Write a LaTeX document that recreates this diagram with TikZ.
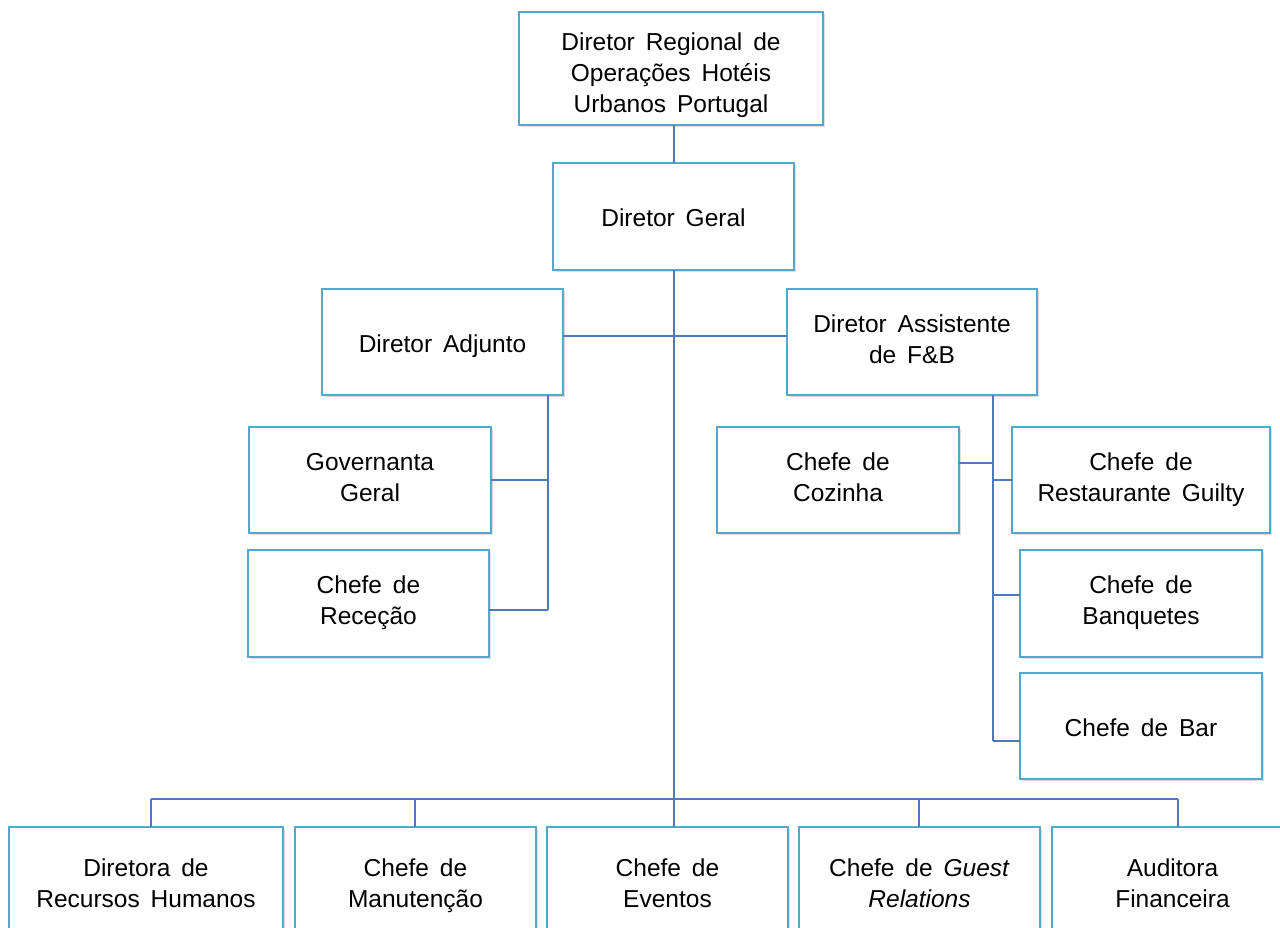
\documentclass[tikz,border=0pt]{standalone}
\usepackage{fontspec}
\setmainfont{Liberation Sans}[WordSpace=1.6]
\usetikzlibrary{shadows}
\definecolor{boxc}{RGB}{88,166,202}
\definecolor{linec}{RGB}{79,120,189}
\begin{document}
\begin{tikzpicture}[x=1pt,y=-1pt,
  box/.style={draw=boxc, line width=2.2pt, fill=white, rectangle, inner sep=0pt, outer sep=0pt,
    align=center, font=\fontsize{24.5}{31}\selectfont,
    execute at begin node={\rule{0pt}{26.5pt}}, execute at end node={\rule[-6pt]{0pt}{6pt}},
    drop shadow={opacity=0.25, shadow xshift=2pt, shadow yshift=-2pt}},
  conn/.style={draw=linec, line width=1.6pt}]
\useasboundingbox (0,0) rectangle (1280,928);
\clip (0,0) rectangle (1280,928);
% nodes
\node[box, minimum width=304pt, minimum height=113pt] (reg) at (671,68.5) {\rule{0pt}{32pt}Diretor Regional de\\Operações Hotéis\\Urbanos Portugal};
\node[box, minimum width=241pt, minimum height=107pt] (geral) at (673.5,216.5) {Diretor Geral};
\node[box, minimum width=241pt, minimum height=106pt] (adj) at (442.5,342) {Diretor Adjunto};
\node[box, minimum width=250pt, minimum height=106pt] (fb) at (912,342) {Diretor Assistente\\de F\&B};
\node[box, minimum width=242pt, minimum height=106pt] (gov) at (370,480) {Governanta\\Geral};
\node[box, minimum width=241pt, minimum height=107pt] (rec) at (368.5,603.5) {Chefe de\\Receção};
\node[box, minimum width=242pt, minimum height=106pt] (coz) at (838,480) {Chefe de\\Cozinha};
\node[box, minimum width=258pt, minimum height=106pt] (rest) at (1141,480) {Chefe de\\Restaurante Guilty};
\node[box, minimum width=242pt, minimum height=107pt] (banq) at (1141,603.5) {Chefe de\\Banquetes};
\node[box, minimum width=242pt, minimum height=106pt] (bar) at (1141,726) {Chefe de Bar};
\node[box, minimum width=274pt, minimum height=118pt] (rh) at (146,886) {Diretora de\\Recursos Humanos};
\node[box, minimum width=241pt, minimum height=118pt] (man) at (415.5,886) {Chefe de\\Manutenção};
\node[box, minimum width=241pt, minimum height=118pt] (ev) at (667.5,886) {Chefe de\\Eventos};
\node[box, minimum width=241pt, minimum height=118pt] (gr) at (919.5,886) {Chefe de \textit{Guest}\\\textit{Relations}};
\node[box, minimum width=241pt, minimum height=118pt] (aud) at (1172.5,886) {Auditora\\Financeira};
% connector coordinates
\coordinate (busL) at (151,799);
\coordinate (busR) at (1178,799);
\coordinate (adjBot) at (548,610);
\coordinate (fbBot) at (993,741);
% connectors
\draw[conn] (reg.south -| 674,0) -- (geral.north -| 674,0);
\draw[conn] (geral.south -| 674,0) -- (ev.north -| 674,0);
\draw[conn] (adj.east |- 0,336) -- (fb.west |- 0,336);
\draw[conn] (adj.south -| 548,0) -- (adjBot);
\draw[conn] (gov.east) -- (gov.east -| 548,0);
\draw[conn] (rec.east |- adjBot) -- (adjBot);
\draw[conn] (fb.south -| 993,0) -- (fbBot);
\draw[conn] (coz.east |- 0,463) -- (993,463);
\draw[conn] (993,480) -- (rest.west);
\draw[conn] (993,595) -- (banq.west |- 0,595);
\draw[conn] (fbBot) -- (bar.west |- fbBot);
\draw[conn] (busL) -- (busR);
\draw[conn] (busL) -- (busL |- rh.north);
\draw[conn] (415,799) -- (415,827);
\draw[conn] (919,799) -- (919,827);
\draw[conn] (busR) -- (busR |- aud.north);
\end{tikzpicture}
\end{document}
